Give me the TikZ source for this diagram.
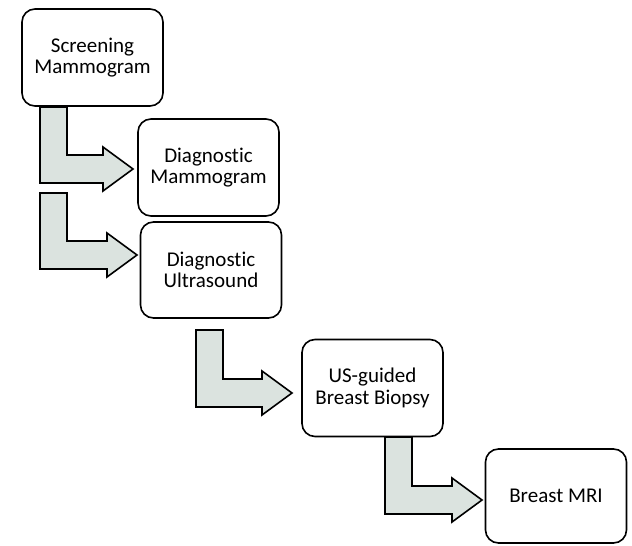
\documentclass[tikz,border=0pt]{standalone}
\usepackage{fontspec}
\setmainfont{Carlito}[Ligatures=NoCommon]
\usepackage{xcolor}
\usetikzlibrary{calc}
\definecolor{arrowgrey}{RGB}{219, 227, 223}

\begin{document}
\begin{tikzpicture}[x=1pt,y=-1pt,
    stepbox/.style={draw, line width=1.6pt, rounded corners=13pt, fill=white,
        minimum width=141pt, minimum height=97pt, align=center,
        font=\fontsize{21}{21.5}\selectfont},
    bentarrow/.style={draw, line width=1.6pt, fill=arrowgrey, line join=miter}]
    \useasboundingbox (0,0) rectangle (632,546);

    % the steps, in image pixels (y runs down)
    \node[stepbox] (screening) at (92.5,57.5) {Screening\\Mammogram};
    \node[stepbox] (diagmammo) at (208.5,167.5) {Diagnostic\\Mammogram};
    \node[stepbox, minimum height=96pt] (diagus) at (211,270) {Diagnostic\\Ultrasound};
    \node[stepbox] (biopsy) at (372.5,388) {US-guided\\Breast Biopsy};
    \node[stepbox, minimum height=94pt] (mri) at (556,496) {Breast MRI};

    % top of each arrow stem and its tip
    \coordinate (s1) at (40,107);  \coordinate (t1) at (133,169);
    \coordinate (s2) at (40,193);  \coordinate (t2) at (137,255);
    \coordinate (s3) at (196,330); \coordinate (t3) at (292,393);
    \coordinate (s4) at (385,437); \coordinate (t4) at (482,500);

    % the bent block arrows
    \foreach \s/\t in {s1/t1, s2/t2, s3/t3, s4/t4}{
        \draw[bentarrow] (\s) -- ++(27,0) |- ($(\t)+(-30,-14)$) -- ++(0,-8)
            -- (\t) -- ($(\t)+(-30,22)$) -- ++(0,-8) -| (\s) -- cycle;
    }
\end{tikzpicture}
\end{document}
